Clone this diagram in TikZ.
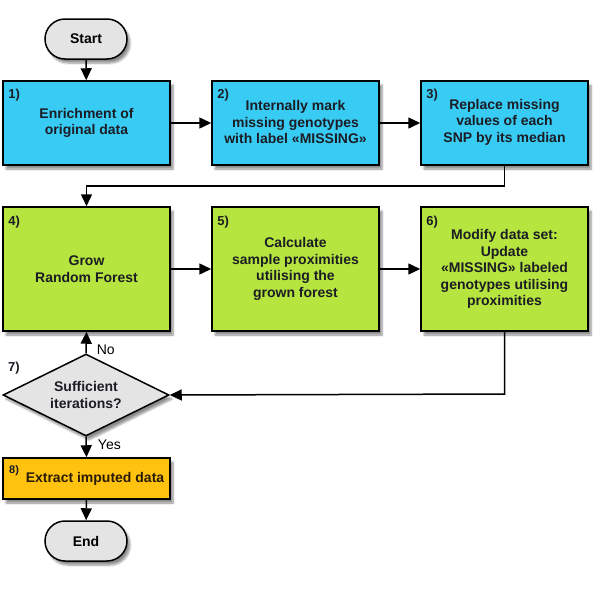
\documentclass[tikz,border=0pt]{standalone}
\usepackage{fontspec}
\setmainfont{Liberation Sans}
\usetikzlibrary{arrows.meta,shapes.geometric,shadows.blur}
\definecolor{stepblue}{RGB}{56,204,244}
\definecolor{stepgreen}{RGB}{181,229,62}
\definecolor{stepyellow}{RGB}{255,194,14}
\definecolor{termgray}{RGB}{228,228,228}
\definecolor{inktext}{RGB}{28,28,36}
\definecolor{inkbrown}{RGB}{42,28,4}
\tikzset{
  softshadow/.style={blur shadow={shadow blur steps=6,shadow xshift=3pt,shadow yshift=-4pt,shadow opacity=45}},
  stepbox/.style={draw=black,line width=1.5pt,inner sep=0pt,minimum width=167pt,softshadow},
  terminal/.style={draw=black,line width=1.5pt,fill=termgray,rounded corners=20pt,minimum width=82pt,minimum height=40pt,inner sep=0pt,softshadow,font=\fontsize{14}{17}\selectfont\bfseries},
  decision/.style={diamond,draw=black,line width=1.5pt,fill=termgray,minimum width=166pt,minimum height=82pt,inner sep=0pt,softshadow},
  steptext/.style={align=center,text=inktext,inner sep=0pt,font=\fontsize{14}{16.5}\selectfont\bfseries},
  numlabel/.style={anchor=west,inner sep=0pt,text=inktext,font=\fontsize{13}{15}\selectfont\bfseries},
  answer/.style={anchor=west,inner sep=0pt,font=\fontsize{14}{16}\selectfont},
  flow/.style={line width=1.5pt,-{Triangle[length=12pt,width=11pt]}},
}
\begin{document}
\begin{tikzpicture}[x=1pt,y=-1pt]
    \useasboundingbox (0,0) rectangle (600,600);
    % boxes
    \node[terminal] (A0_0) at (86,39) {Start};
    \node[stepbox,fill=stepblue,minimum height=84pt] (A1_0) at (86.5,123) {};
    \node[stepbox,fill=stepblue,minimum height=84pt] (A1_1) at (295.5,123) {};
    \node[stepbox,fill=stepblue,minimum height=84pt] (A1_2) at (504.5,123) {};
    \node[stepbox,fill=stepgreen,minimum height=124pt] (A2_0) at (86.5,269) {};
    \node[stepbox,fill=stepgreen,minimum height=124pt] (A2_1) at (295.5,269) {};
    \node[stepbox,fill=stepgreen,minimum height=124pt] (A2_2) at (504.5,269) {};
    \node[decision] (A3_0) at (86,395) {};
    \node[stepbox,fill=stepyellow,minimum height=41pt] (A4_0) at (86.5,478.5) {};
    \node[terminal] (A5_0) at (86,541) {End};
    % texts
    \node[steptext] (T1_0) at (86.5,123) {Enrichment of\\original data};
    \node[steptext] (T1_1) at (295.5,122) {Internally mark\\missing genotypes\\with label «MISSING»};
    \node[steptext] (T1_2) at (504.5,122) {Replace missing\\values of each\\SNP by its median};
    \node[steptext] (T2_0) at (86.5,269) {Grow\\Random Forest};
    \node[steptext] (T2_1) at (295.5,269) {Calculate\\sample proximities\\utilising the\\grown forest};
    \node[steptext] (T2_2) at (504.5,269) {Modify data set:\\Update\\«MISSING» labeled\\genotypes utilising\\proximities};
    \node[steptext] (T3_0) at (86,395) {Sufficient\\iterations?};
    \node[steptext,text=inkbrown] (T4_0) at (95,479) {Extract imputed data};
    % numbers
    \node[numlabel] (N1_0) at ([xshift=6pt,yshift=-15pt]A1_0.north west) {1)};
    \node[numlabel] (N1_1) at ([xshift=6pt,yshift=-15pt]A1_1.north west) {2)};
    \node[numlabel] (N1_2) at ([xshift=6pt,yshift=-15pt]A1_2.north west) {3)};
    \node[numlabel] (N2_0) at ([xshift=6pt,yshift=-16pt]A2_0.north west) {4)};
    \node[numlabel] (N2_1) at ([xshift=6pt,yshift=-16pt]A2_1.north west) {5)};
    \node[numlabel] (N2_2) at ([xshift=6pt,yshift=-16pt]A2_2.north west) {6)};
    \node[numlabel] (N3_0) at (8,368) {7)};
    \node[numlabel,font=\fontsize{11}{13}\selectfont\bfseries] (N4_0) at (9,471) {8)};
    % connectors
    \coordinate (C1_2) at (504.5,186);
    \coordinate (C2_2) at (504.5,394);
    \path (A0_0) edge [flow] (A1_0);
    \path (A1_0) edge [flow] (A1_1);
    \path (A1_1) edge [flow] (A1_2);
    \draw[flow] (A1_2.south) -- (C1_2) -| (A2_0.north);
    \path (A2_0) edge [flow] (A2_1);
    \path (A2_1) edge [flow] (A2_2);
    \draw[flow] (A2_2.south) -- (C2_2) -- (A3_0.east);
    \path (A3_0.north) edge [flow] node [answer,pos=0.15,xshift=10pt] (L3_0) {No} (A2_0.south);
    \path (A3_0.south) edge [flow] node [answer,pos=0.4,xshift=11pt] (L3_1) {Yes} (A4_0.north);
    \path (A4_0) edge [flow] (A5_0);
\end{tikzpicture}
\end{document}
